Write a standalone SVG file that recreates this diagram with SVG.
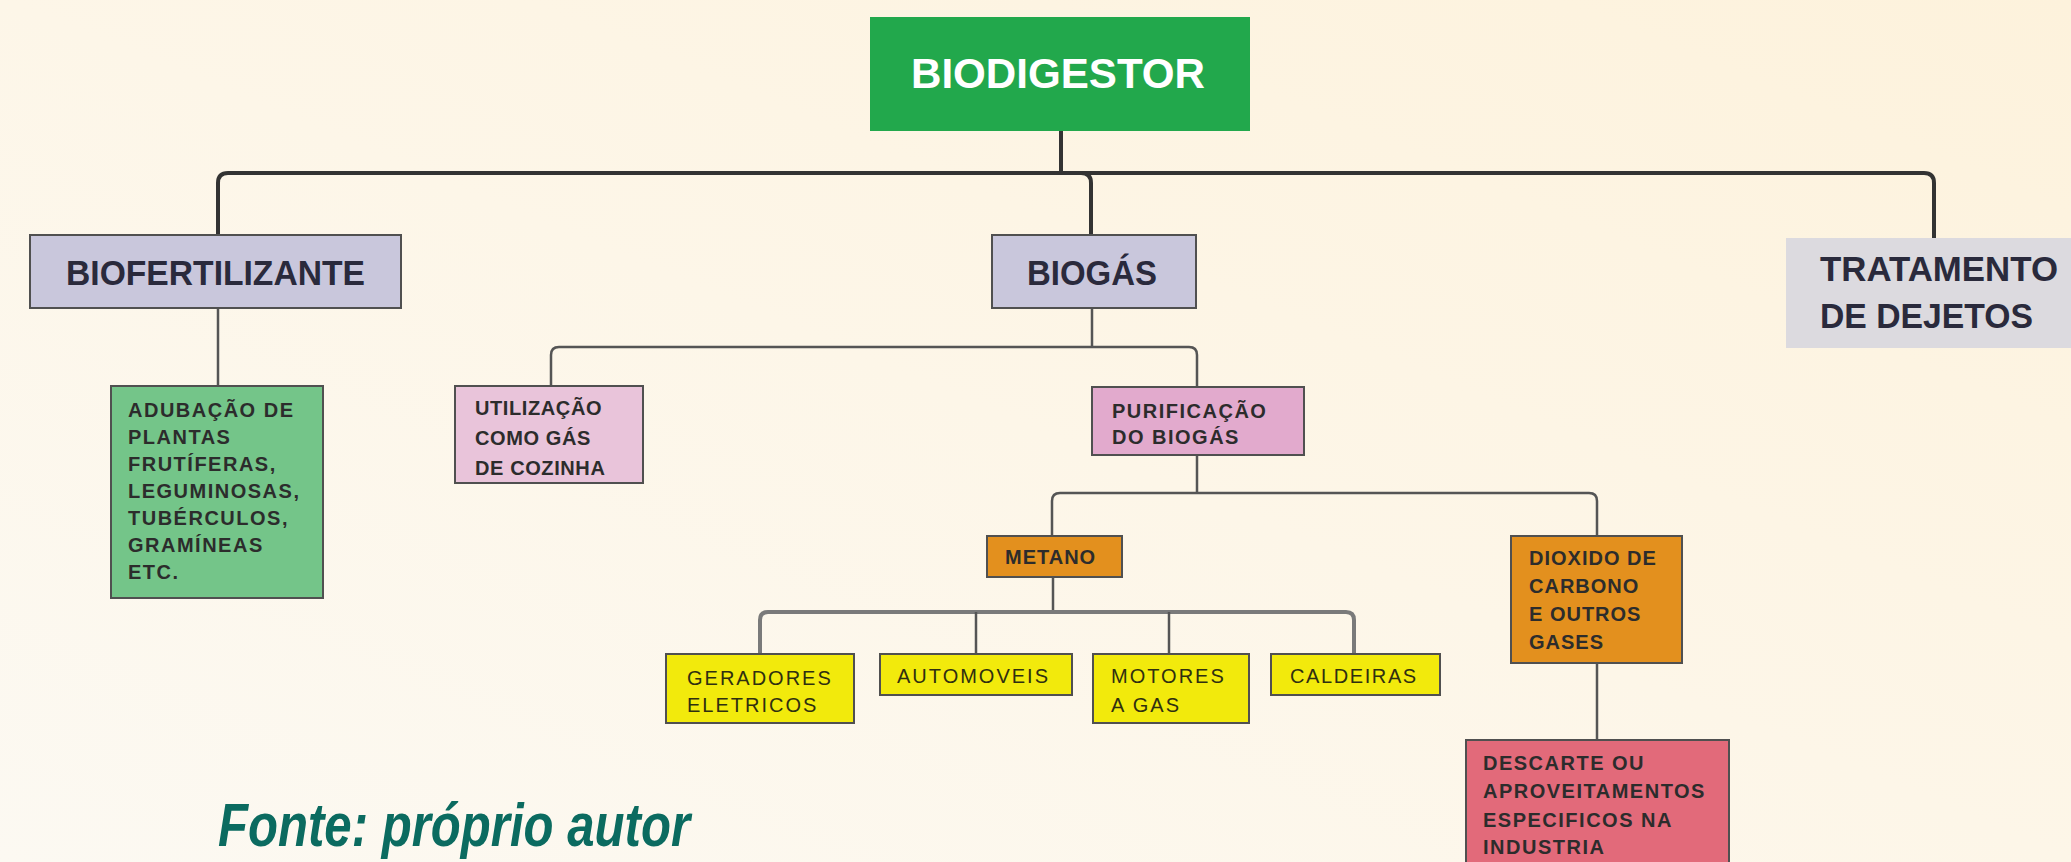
<svg xmlns="http://www.w3.org/2000/svg" width="2071" height="862" viewBox="0 0 2071 862">
<defs>
<linearGradient id="bg" x1="0" y1="1" x2="1" y2="0">
<stop offset="0" stop-color="#fcf9f2"/>
<stop offset="0.5" stop-color="#fdf6e8"/>
<stop offset="1" stop-color="#fdf2dc"/>
</linearGradient>
<style>
.box{stroke:#505050;stroke-width:2}
.big{font-family:"Liberation Sans",Arial,sans-serif;font-weight:bold;font-size:35px;fill:#2a2a3c}
.sm{font-family:"Liberation Sans",Arial,sans-serif;font-weight:bold;font-size:20px;letter-spacing:1.5px;fill:#2c2c2c}
.ye{font-family:"Liberation Sans",Arial,sans-serif;font-weight:normal;font-size:20px;letter-spacing:2px;fill:#2f2f10}
.c1{fill:none;stroke:#333;stroke-width:4}
.c2{fill:none;stroke:#555;stroke-width:2.5}
.c3{fill:none;stroke:#7a7a7a;stroke-width:4}
</style>
</defs>
<rect width="2071" height="862" fill="url(#bg)"/>

<g id="connectors">
<path class="c1" d="M1061,131 V173"/>
<path class="c1" d="M218,235 V183 Q218,173 228,173 H1924 Q1934,173 1934,183 V238"/>
<path class="c1" d="M1081,173 Q1091,173 1091,183 V235"/>
<path class="c2" d="M218,308 V386"/>
<path class="c2" d="M1092,308 V347"/>
<path class="c2" d="M551,386 V355 Q551,347 559,347 H1189 Q1197,347 1197,355 V388"/>
<path class="c2" d="M1197,455 V493"/>
<path class="c2" d="M1052,536 V501 Q1052,493 1060,493 H1589 Q1597,493 1597,501 V536"/>
<path class="c2" d="M1597,663 V740"/>
<path class="c2" d="M1053,577 V612"/>
<path class="c3" d="M760,654 V620 Q760,612 768,612 H1346 Q1354,612 1354,620 V654"/>
<path class="c2" d="M976,612 V654"/>
<path class="c2" d="M1169,612 V654"/>
</g>

<g id="biodigestor">
<rect x="870" y="17" width="380" height="114" fill="#22a84c"/>
<text x="911" y="88" font-family="Liberation Sans,Arial,sans-serif" font-weight="bold" font-size="42" fill="#ffffff" textLength="294" lengthAdjust="spacingAndGlyphs">BIODIGESTOR</text>
</g>

<g id="biofertilizante">
<rect class="box" x="30" y="235" width="371" height="73" fill="#c9c7dc"/>
<text class="big" x="66" y="285" textLength="299" lengthAdjust="spacingAndGlyphs">BIOFERTILIZANTE</text>
</g>

<g id="biogas">
<rect class="box" x="992" y="235" width="204" height="73" fill="#c9c7dc"/>
<text class="big" x="1027" y="285" textLength="130" lengthAdjust="spacingAndGlyphs">BIOGÁS</text>
</g>

<g id="tratamento">
<rect x="1786" y="238" width="290" height="110" fill="#dcdadf"/>
<text class="big" x="1820" y="281" textLength="238" lengthAdjust="spacingAndGlyphs">TRATAMENTO</text>
<text class="big" x="1820" y="328" textLength="213" lengthAdjust="spacingAndGlyphs">DE DEJETOS</text>
</g>

<g id="adubacao">
<rect class="box" x="111" y="386" width="212" height="212" fill="#74c589"/>
<text class="sm" fill="#1e2a1e"><tspan x="128" y="417">ADUBAÇÃO DE</tspan><tspan x="128" y="444">PLANTAS</tspan><tspan x="128" y="471">FRUTÍFERAS,</tspan><tspan x="128" y="498">LEGUMINOSAS,</tspan><tspan x="128" y="525">TUBÉRCULOS,</tspan><tspan x="128" y="552">GRAMÍNEAS</tspan><tspan x="128" y="579">ETC.</tspan></text>
</g>

<g id="utilizacao">
<rect class="box" x="455" y="386" width="188" height="97" fill="#e9c4da"/>
<text class="sm" style="letter-spacing:0.6px" fill="#3a2438"><tspan x="475" y="415">UTILIZAÇÃO</tspan><tspan x="475" y="445">COMO GÁS</tspan><tspan x="475" y="475">DE COZINHA</tspan></text>
</g>

<g id="purificacao">
<rect class="box" x="1092" y="387" width="212" height="68" fill="#e2aacd"/>
<text class="sm" fill="#3a2438"><tspan x="1112" y="418">PURIFICAÇÃO</tspan><tspan x="1112" y="444">DO BIOGÁS</tspan></text>
</g>

<g id="metano">
<rect class="box" x="987" y="536" width="135" height="41" fill="#e3901e"/>
<text class="sm" x="1005" y="564" style="letter-spacing:1px" fill="#3a2a10">METANO</text>
</g>

<g id="dioxido">
<rect class="box" x="1511" y="536" width="171" height="127" fill="#e3901e"/>
<text class="sm" style="letter-spacing:1px" fill="#3a2a10"><tspan x="1529" y="565">DIOXIDO DE</tspan><tspan x="1529" y="593">CARBONO</tspan><tspan x="1529" y="621">E OUTROS</tspan><tspan x="1529" y="649">GASES</tspan></text>
</g>

<g id="geradores">
<rect class="box" x="666" y="654" width="188" height="69" fill="#f2ea0c"/>
<text class="ye"><tspan x="687" y="685">GERADORES</tspan><tspan x="687" y="712">ELETRICOS</tspan></text>
</g>

<g id="automoveis">
<rect class="box" x="880" y="654" width="192" height="41" fill="#f2ea0c"/>
<text class="ye" x="897" y="683">AUTOMOVEIS</text>
</g>

<g id="motores">
<rect class="box" x="1093" y="654" width="156" height="69" fill="#f2ea0c"/>
<text class="ye"><tspan x="1111" y="683">MOTORES</tspan><tspan x="1111" y="712">A GAS</tspan></text>
</g>

<g id="caldeiras">
<rect class="box" x="1271" y="654" width="169" height="41" fill="#f2ea0c"/>
<text class="ye" x="1290" y="683" style="letter-spacing:1.6px">CALDEIRAS</text>
</g>

<g id="descarte">
<rect class="box" x="1466" y="740" width="263" height="130" fill="#e26a7a"/>
<text class="sm" fill="#3a1a1e"><tspan x="1483" y="770">DESCARTE OU</tspan><tspan x="1483" y="798">APROVEITAMENTOS</tspan><tspan x="1483" y="827">ESPECIFICOS NA</tspan><tspan x="1483" y="854">INDUSTRIA</tspan></text>
</g>

<text x="218" y="846" font-family="Liberation Sans,Arial,sans-serif" font-style="italic" font-weight="bold" font-size="62" fill="#0b6b60" textLength="472" lengthAdjust="spacingAndGlyphs">Fonte: próprio autor</text>
</svg>
